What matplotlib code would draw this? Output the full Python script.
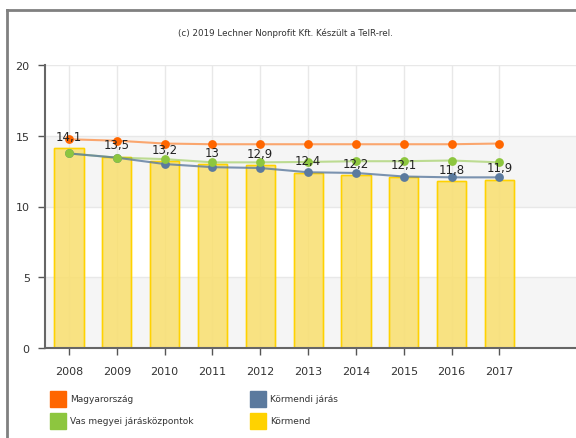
import matplotlib
matplotlib.use("Agg")
import matplotlib.pyplot as plt
from matplotlib.lines import Line2D
from matplotlib.patches import Rectangle

years = ["2008", "2009", "2010", "2011", "2012", "2013", "2014", "2015", "2016", "2017"]
kormend = [14.1, 13.5, 13.2, 13.0, 12.9, 12.4, 12.2, 12.1, 11.8, 11.9]
magyarorszag = [14.75, 14.65, 14.45, 14.4, 14.4, 14.4, 14.4, 14.4, 14.4, 14.45]
vas_megyei = [13.75, 13.45, 13.35, 13.12, 13.12, 13.15, 13.2, 13.2, 13.25, 13.12]
kormendi_jaras = [13.75, 13.45, 13.0, 12.78, 12.72, 12.42, 12.37, 12.12, 12.06, 12.06]
yticks = [0, 5, 10, 15, 20]

plt.rcParams['font.family'] = ['DejaVu Sans']
W, H = 576, 439
fig = plt.figure(figsize=(W / 100, H / 100), dpi=100)
ax = fig.add_axes([45 / W, (H - 349) / H, 1 - 45 / W, (349 - 66) / H])

x = list(range(len(years)))
ax.set_xlim(-0.5, 10.6)
ax.set_ylim(0, 20)

# alternating bands
for i in range(len(yticks) - 1):
    if i % 2 == 0:
        ax.axhspan(yticks[i], yticks[i + 1], color="#f5f5f5", zorder=0, lw=0)
for yv in yticks[1:]:
    ax.axhline(yv, color="#e8e8e8", lw=1, zorder=0.5)
for xi in x:
    ax.axvline(xi, color="#e8e8e8", lw=1, zorder=0.5)

ax.bar(x, kormend, width=0.61, color="#f9df6e", alpha=0.85, edgecolor="#ffd200",
       linewidth=1, zorder=2)
ax.bar(x, kormend, width=0.61, fill=False, edgecolor="#ffd200", linewidth=1, zorder=2.1)

ax.plot(x, magyarorszag, color="#ff6600", alpha=0.55, lw=1.5, zorder=3)
ax.plot(x, vas_megyei, color="#8dc63f", alpha=0.55, lw=1.5, zorder=3)
ax.plot(x, kormendi_jaras, color="#5b7a9e", alpha=0.8, lw=1.5, zorder=3)
ax.scatter(x, magyarorszag, s=40, color="#ff6600", zorder=4, lw=0)
ax.scatter(x, kormendi_jaras, s=40, color="#5b7a9e", zorder=4, lw=0)
ax.scatter(x, vas_megyei, s=40, color="#8dc63f", zorder=4.5, lw=0)

for xi, v in zip(x, kormend):
    lab = ("%g" % v).replace(".", ",")
    ax.text(xi, v + 0.85, lab, ha="center", va="center", fontsize=8.5, color="#222222", zorder=6)

ax.set_xticks(x)
ax.set_xticklabels(years, fontsize=8, color="#333333")
ax.set_yticks(yticks)
ax.set_yticklabels([str(t) for t in yticks], fontsize=8, color="#333333")
ax.tick_params(axis="both", direction="out", length=5, width=1, color="#555555", pad=6)
ax.tick_params(axis="x", pad=8)
for s in ["top", "right"]:
    ax.spines[s].set_visible(False)
for s in ["left", "bottom"]:
    ax.spines[s].set_color("#666666")
    ax.spines[s].set_linewidth(1.5)

fig.text(285 / W, 1 - 33 / H, "(c) 2019 Lechner Nonprofit Kft. Készült a TeIR-rel.",
         ha="center", va="center", fontsize=6.3, color="#333333")

# frame
fig.add_artist(Line2D([7 / W, 7 / W], [0, 1 - 11 / H], color="#808080", lw=2))
fig.add_artist(Line2D([7 / W, 1], [1 - 11 / H, 1 - 11 / H], color="#808080", lw=2))

# legend
legend_items = [
    (50, 400, "#ff6600", "Magyarország"),
    (50, 422, "#8dc63f", "Vas megyei járásközpontok"),
    (250, 400, "#5b7a9e", "Körmendi járás"),
    (250, 422, "#ffd200", "Körmend"),
]
for lx, ly, c, t in legend_items:
    fig.add_artist(Rectangle((lx / W, 1 - (ly + 8) / H), 16 / W, 16 / H, color=c, transform=fig.transFigure))
    fig.text((lx + 20) / W, 1 - ly / H, t, ha="left", va="center", fontsize=6.5, color="#333333")

fig.savefig("out.png", dpi=100)
